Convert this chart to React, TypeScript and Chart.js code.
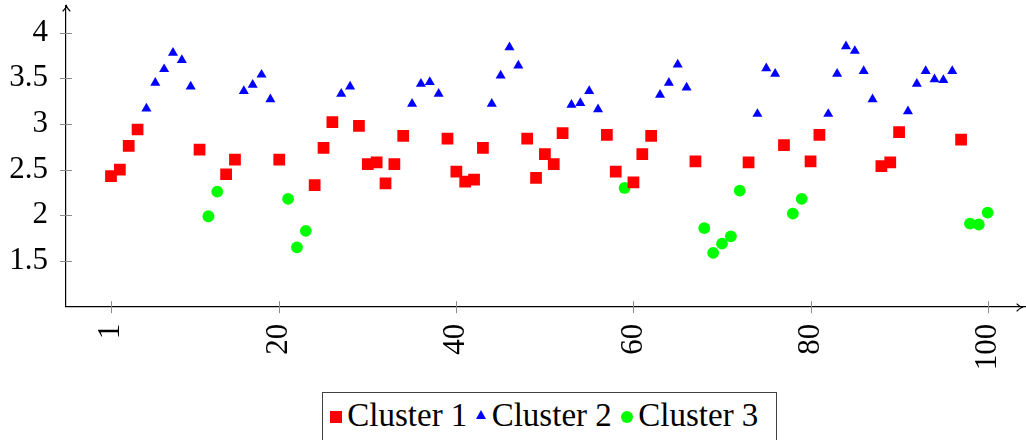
import React, { useEffect, useRef } from "react";
import { Chart, registerables } from "chart.js";

Chart.register(...registerables);

// ---- data ----
const cluster1X = [1, 2, 3, 4, 11, 14, 15, 20, 24, 25, 26, 29, 30, 31, 32, 33, 34, 39, 40, 41, 42, 43, 48, 49, 50, 51, 52, 57, 58, 60, 61, 62, 67, 73, 77, 80, 81, 88, 89, 90, 97];
const cluster1Y = [2.43, 2.5, 2.76, 2.94, 2.72, 2.45, 2.61, 2.61, 2.33, 2.74, 3.02, 2.98, 2.56, 2.58, 2.35, 2.56, 2.87, 2.84, 2.48, 2.37, 2.39, 2.74, 2.84, 2.41, 2.67, 2.56, 2.9, 2.88, 2.48, 2.36, 2.67, 2.87, 2.59, 2.58, 2.77, 2.59, 2.88, 2.54, 2.58, 2.91, 2.83];

const cluster2X = [5, 6, 7, 8, 9, 10, 16, 17, 18, 19, 27, 28, 35, 36, 37, 38, 44, 45, 46, 47, 53, 54, 55, 56, 63, 64, 65, 66, 74, 75, 76, 82, 83, 84, 85, 86, 87, 91, 92, 93, 94, 95, 96];
const cluster2Y = [3.17, 3.45, 3.6, 3.78, 3.7, 3.41, 3.36, 3.43, 3.54, 3.27, 3.33, 3.41, 3.22, 3.44, 3.46, 3.33, 3.22, 3.53, 3.84, 3.64, 3.21, 3.23, 3.36, 3.16, 3.32, 3.45, 3.65, 3.4, 3.11, 3.61, 3.55, 3.11, 3.55, 3.85, 3.8, 3.58, 3.27, 3.14, 3.44, 3.58, 3.49, 3.48, 3.58];

const cluster3X = [12, 13, 21, 22, 23, 59, 68, 69, 70, 71, 72, 78, 79, 98, 99, 100];
const cluster3Y = [1.99, 2.26, 2.18, 1.65, 1.83, 2.3, 1.86, 1.59, 1.69, 1.77, 2.27, 2.02, 2.18, 1.91, 1.9, 2.03];

const seriesNames = ["Cluster 1", "Cluster 2", "Cluster 3"];
const xTicks = [1, 20, 40, 60, 80, 100];
const yTicks = [1.5, 2, 2.5, 3, 3.5, 4];

const W = 1026;
const H = 380;
const FONT = "'Liberation Serif', 'Times New Roman', serif";

const toPoints = (xs: number[], ys: number[]) => xs.map((x, i) => ({ x, y: ys[i] }));

const axisDecor = {
  id: "axisDecor",
  afterDraw(chart: any) {
    const { ctx, chartArea: a, scales } = chart;
    const xs = scales.x;
    const ys = scales.y;
    ctx.save();
    ctx.strokeStyle = "#8c8c8c";
    ctx.lineWidth = 1;
    ctx.beginPath();
    for (const t of xs.ticks) {
      const px = Math.round(xs.getPixelForValue(t.value)) + 0.5;
      ctx.moveTo(px, a.bottom - 5.5);
      ctx.lineTo(px, a.bottom + 6.5);
    }
    for (const t of ys.ticks) {
      const py = Math.round(ys.getPixelForValue(t.value)) + 0.5;
      ctx.moveTo(a.left - 6, py);
      ctx.lineTo(a.left + 6, py);
    }
    ctx.stroke();

    // arrow heads
    ctx.strokeStyle = "#000";
    ctx.lineWidth = 1.1;
    ctx.lineCap = "round";
    const lx = Math.round(a.left) + 0.5;
    const ty = a.top;
    ctx.beginPath();
    ctx.moveTo(lx - 3.5, ty + 5);
    ctx.quadraticCurveTo(lx - 0.6, ty + 2, lx, ty);
    ctx.quadraticCurveTo(lx + 0.6, ty + 2, lx + 3.5, ty + 5);
    ctx.stroke();
    const by = Math.round(a.bottom) + 0.5;
    const rx = a.right - 4;
    ctx.beginPath();
    ctx.moveTo(rx - 5, by - 3.5);
    ctx.quadraticCurveTo(rx - 2, by - 0.6, rx, by);
    ctx.quadraticCurveTo(rx - 2, by + 0.6, rx - 5, by + 3.5);
    ctx.stroke();
    ctx.restore();
  },
};

export default function App() {
  const ref = useRef<HTMLCanvasElement>(null);

  useEffect(() => {
    const canvas = ref.current;
    if (!canvas) return;
    const chart = new Chart(canvas, {
      type: "scatter",
      data: {
        datasets: [
          {
            label: seriesNames[0],
            data: toPoints(cluster1X, cluster1Y),
            pointStyle: "rect",
            pointRadius: 8.3,
            pointBackgroundColor: "#ff0000",
            pointBorderWidth: 0,
            borderColor: "#ff0000",
          },
          {
            label: seriesNames[1],
            data: toPoints(cluster2X, cluster2Y),
            pointStyle: "triangle",
            pointRadius: 5.8,
            pointBackgroundColor: "#0000ff",
            pointBorderWidth: 0,
            borderColor: "#0000ff",
          },
          {
            label: seriesNames[2],
            data: toPoints(cluster3X, cluster3Y),
            pointStyle: "circle",
            pointRadius: 5.9,
            pointBackgroundColor: "#00ff00",
            pointBorderWidth: 0,
            borderColor: "#00ff00",
          },
        ],
      },
      options: {
        responsive: false,
        animation: false,
        layout: { autoPadding: false, padding: { top: 6, left: 0, right: 0, bottom: 0 } },
        plugins: {
          legend: { display: false },
          tooltip: { enabled: false },
        },
        scales: {
          x: {
            type: "linear",
            min: -4.082,
            max: 104.33,
            grid: { display: false, drawTicks: false },
            border: { display: true, color: "#000", width: 1.2 },
            ticks: {
              padding: 17,
              minRotation: 90,
              maxRotation: 90,
              autoSkip: false,
              color: "#000",
              font: { family: FONT, size: 31 },
              callback: (v: any) => String(v),
            },
            afterBuildTicks: (s: any) => {
              s.ticks = xTicks.map((v) => ({ value: v }));
            },
            afterFit: (s: any) => {
              s.height = H - 306.7;
              s.paddingLeft = 0;
              s.paddingRight = 0;
            },
          },
          y: {
            type: "linear",
            min: 1.0,
            max: 4.292,
            grid: { display: false, drawTicks: false },
            border: { display: true, color: "#000", width: 1.2 },
            ticks: {
              padding: 18,
              autoSkip: false,
              color: "#000",
              font: { family: FONT, size: 31 },
              callback: (v: any) => String(v),
            },
            afterBuildTicks: (s: any) => {
              s.ticks = yTicks.map((v) => ({ value: v }));
            },
            afterFit: (s: any) => {
              s.width = 66;
              s.paddingTop = 0;
              s.paddingBottom = 0;
            },
          },
        },
      },
      plugins: [axisDecor],
    });
    return () => chart.destroy();
  }, []);

  const textStyle = (left: number): React.CSSProperties => ({
    position: "absolute",
    left,
    top: 399.1,
    fontFamily: FONT,
    fontSize: 33,
    lineHeight: "33px",
    whiteSpace: "nowrap",
    color: "#000",
  });

  return (
    <div
      style={{
        position: "absolute",
        left: 0,
        top: 0,
        width: W,
        height: 440,
        overflow: "hidden",
        background: "#fff",
      }}
    >
      <canvas ref={ref} width={W} height={H} style={{ display: "block", width: W, height: H }} />
      <div
        style={{
          position: "absolute",
          left: 322,
          top: 392,
          width: 455,
          height: 70,
          border: "1.3px solid #404040",
          boxSizing: "border-box",
        }}
      />
      <div style={{ position: "absolute", left: 330, top: 410.7, width: 12, height: 12, background: "#ff0000" }} />
      <span style={textStyle(347.3)}>{seriesNames[0]}</span>
      <div
        style={{
          position: "absolute",
          left: 475.7,
          top: 410,
          width: 0,
          height: 0,
          borderLeft: "5.5px solid transparent",
          borderRight: "5.5px solid transparent",
          borderBottom: "9.5px solid #0000ff",
        }}
      />
      <span style={textStyle(491.7)}>{seriesNames[1]}</span>
      <div
        style={{
          position: "absolute",
          left: 621,
          top: 410.6,
          width: 12,
          height: 12,
          borderRadius: "50%",
          background: "#00ff00",
        }}
      />
      <span style={textStyle(638.3)}>{seriesNames[2]}</span>
    </div>
  );
}
